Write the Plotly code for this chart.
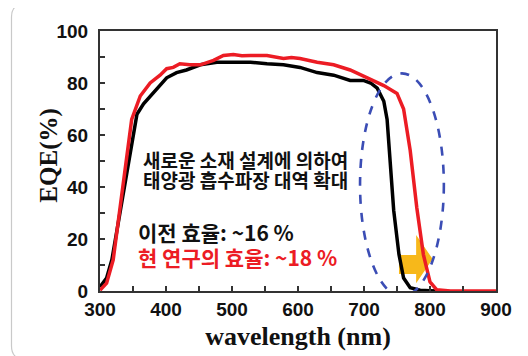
import plotly.graph_objects as go

# Data
wl_prev = [300, 305, 310, 318, 330, 345, 356, 366, 376, 391, 401, 416, 431, 452, 477, 502, 528, 553, 578,
           603, 629, 654, 679, 699, 710, 720, 730, 735, 740, 745, 753, 760, 770, 785, 800, 812]
eqe_prev = [1.5, 3, 5, 12, 30, 53, 68, 72, 75, 79, 82, 84, 85, 87, 88, 88, 88, 87.4, 87,
            86, 84, 83, 81, 81, 80, 78, 73, 66, 48, 31, 14, 5, 1.3, 0.3, 0.1, 0]

wl_new = [300, 310, 320, 335, 348, 361, 376, 391, 401, 411, 421, 436, 452, 472, 487, 502, 515, 528, 553,
          578, 590, 603, 629, 654, 679, 705, 730, 750, 760, 770, 780, 790, 800, 810, 831, 900]
eqe_new = [0.3, 3, 12, 40, 66, 75, 80, 83, 85.5, 86, 87.4, 87, 87, 88.7, 90.6, 91, 90.5, 90.6, 90.6,
           89.4, 89.8, 89.4, 88, 87, 85, 82, 79, 76, 70, 54, 32, 14, 3.5, 0.5, 0, 0]

x_ticks = [300, 400, 500, 600, 700, 800, 900]
y_ticks = [0, 20, 40, 60, 80, 100]

x_title = "wavelength (nm)"
y_title = "EQE(%)"
note_line1 = "새로운 소재 설계에 의하여"
note_line2 = "태양광 흡수파장 대역 확대"
label_prev = "이전 효율: ~16 %"
label_new = "현 연구의 효율: ~18 %"

fig = go.Figure()
fig.add_trace(go.Scatter(x=wl_prev, y=eqe_prev, mode="lines",
                         line=dict(color="#000000", width=3.5), showlegend=False))
fig.add_trace(go.Scatter(x=wl_new, y=eqe_new, mode="lines",
                         line=dict(color="#ec1c24", width=3.5), showlegend=False))

# yellow arrow (behind curves)
fig.add_shape(type="path", xref="x", yref="y", layer="below",
              path="M 753,6.5 L 753,13.8 L 779,13.8 L 779,21.5 L 804,12.3 L 779,3 L 779,6.5 Z",
              fillcolor="#f7b81a", line=dict(width=0))
# blue dashed ellipse
fig.add_shape(type="circle", xref="x", yref="y", x0=694, x1=821, y0=-2, y1=83.7,
              line=dict(color="#3b4db5", width=2.6, dash="dash"), layer="above")

# rounded outer frame
l, r, t, b = -0.2235, 1.0783, 1.1038, -0.262
rx, ry = 0.033, 0.05
frame = (f"M {l+rx},{t} L {r-rx},{t} Q {r},{t} {r},{t-ry} L {r},{b+ry} Q {r},{b} {r-rx},{b} "
         f"L {l+rx},{b} Q {l},{b} {l},{b+ry} L {l},{t-ry} Q {l},{t} {l+rx},{t} Z")
fig.add_shape(type="path", xref="paper", yref="paper", path=frame,
              line=dict(color="#c9c9c9", width=1.2), layer="below")

kfont = "Noto Sans CJK KR"
fig.add_annotation(x=521, y=50.6, xref="x", yref="y", text=note_line1, showarrow=False,
                   font=dict(family=kfont, size=19, color="#111", weight="bold"), xanchor="center", yanchor="middle")
fig.add_annotation(x=521, y=42.7, xref="x", yref="y", text=note_line2, showarrow=False,
                   font=dict(family=kfont, size=19, color="#111", weight="bold"), xanchor="center", yanchor="middle")
fig.add_annotation(x=354, y=22.7, xref="x", yref="y", text=label_prev, showarrow=False,
                   font=dict(family=kfont, size=21, color="#111", weight="bold"), xanchor="left", yanchor="middle")
fig.add_annotation(x=354, y=13.0, xref="x", yref="y", text=label_new, showarrow=False,
                   font=dict(family=kfont, size=21, color="#ec1c24", weight="bold"), xanchor="left", yanchor="middle")

# y-axis title placed close to the tick labels, as in the reference
fig.add_annotation(x=-0.131, y=0.521, xref="paper", yref="paper", text=y_title, showarrow=False,
                   textangle=-90, xanchor="center", yanchor="middle",
                   font=dict(family="Liberation Serif", size=25, color="#111", weight="bold"))

axis_common = dict(showline=True, linecolor="#333333", linewidth=2, mirror=True,
                   showgrid=False, zeroline=False, ticks="inside", ticklen=5, tickwidth=1.5,
                   tickcolor="#333333",
                   tickfont=dict(family="Liberation Sans", size=19, color="#111", weight="bold"))

fig.update_xaxes(range=[300, 900], tickvals=x_ticks, ticktext=[str(v) for v in x_ticks],
                 ticklabelstandoff=0,
                 minor=dict(dtick=50, ticks="inside", ticklen=5, tickwidth=1.5, tickcolor="#333333"),
                 title=dict(text=x_title, standoff=8,
                            font=dict(family="Liberation Serif", size=26, color="#111", weight="bold")),
                 **axis_common)
fig.update_yaxes(range=[0, 100], tickvals=y_ticks, ticktext=[str(v) for v in y_ticks],
                 ticklabelstandoff=6,
                 minor=dict(dtick=10, ticks="inside", ticklen=5, tickwidth=1.5, tickcolor="#333333"),
                 **axis_common)

# page body has an 8px margin: shift the drawing up/left so the plot area lands at x 100-496, y 31-291
fig.update_layout(width=528, height=356, margin=dict(l=92, r=40, t=23, b=73, autoexpand=False),
                  paper_bgcolor="white", plot_bgcolor="white")

fig.write_html("out.html")
